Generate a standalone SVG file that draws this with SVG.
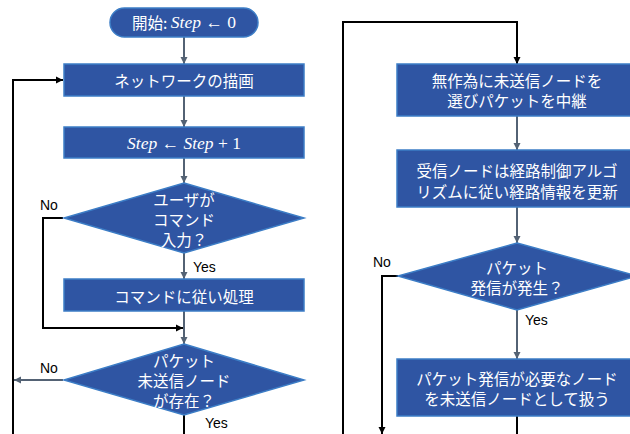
<svg xmlns="http://www.w3.org/2000/svg" width="630" height="434" viewBox="0 0 630 434">
<style>
.n{fill:#2F55A3;stroke:#3C7DC6;stroke-width:1.5}
.t{fill:#fff;font-family:"Noto Sans CJK JP","Noto Sans",sans-serif;font-size:15.5px;text-anchor:middle;dominant-baseline:central}
.m{font-family:"Liberation Serif",serif;font-style:italic;font-size:17.5px}
.mr{font-family:"Liberation Serif",serif;font-size:17.5px}
.l{fill:#000;font-family:"Liberation Sans",Arial,sans-serif;font-size:14px;dominant-baseline:central}
.g{fill:none;stroke:#536274;stroke-width:2}
.b{fill:none;stroke:#000;stroke-width:2}
</style>
<defs>
<marker id="ag" viewBox="0 0 10 10" refX="10" refY="5" markerWidth="3.5" markerHeight="4" orient="auto" markerUnits="strokeWidth"><path d="M0,0L10,5L0,10z" fill="#536274"/></marker>
<marker id="ab" viewBox="0 0 10 10" refX="10" refY="5" markerWidth="3.5" markerHeight="4" orient="auto" markerUnits="strokeWidth"><path d="M0,0L10,5L0,10z" fill="#000"/></marker>
</defs>
<rect width="630" height="434" fill="#fff"/>
<g id="connectors">
<path class="g" d="M184,37V64" marker-end="url(#ag)"/>
<path class="g" d="M184,96V127" marker-end="url(#ag)"/>
<path class="g" d="M184,158V183" marker-end="url(#ag)"/>
<path class="g" d="M184,253V279" marker-end="url(#ag)"/>
<path class="g" d="M184,311V344" marker-end="url(#ag)"/>
<path class="b" d="M63,218H43V328H183" marker-end="url(#ab)"/>
<path class="g" d="M63,380H14" marker-end="url(#ag)"/>
<path class="b" d="M184,415V434"/>
<path class="b" d="M13,434V80H63" marker-end="url(#ab)"/>
<path class="b" d="M343,434V22H517V64" marker-end="url(#ab)"/>
<path class="g" d="M517,116V150" marker-end="url(#ag)"/>
<path class="g" d="M517,207V243" marker-end="url(#ag)"/>
<path class="g" d="M517,310V359" marker-end="url(#ag)"/>
<path class="b" d="M398,276H382V434" marker-end="url(#ab)"/>
<path class="b" d="M517,416V434"/>
</g>
<g id="start">
<rect class="n" x="110" y="8" width="148" height="29" rx="14.5"/>
<text class="t" x="184" y="22">開始: <tspan class="m">Step</tspan><tspan class="mr"> ← 0</tspan></text>
</g>
<g id="draw">
<rect class="n" x="64" y="64" width="240" height="32"/>
<text class="t" x="184" y="80">ネットワークの描画</text>
</g>
<g id="inc">
<rect class="n" x="64" y="127" width="240" height="31"/>
<text class="t" x="184" y="143"><tspan class="m">Step</tspan><tspan class="mr"> ← </tspan><tspan class="m">Step</tspan><tspan class="mr"> + 1</tspan></text>
</g>
<g id="d1">
<polygon class="n" points="184,183 304,218 184,253 64,218"/>
<text class="t" x="184" y="199">ユーザが</text>
<text class="t" x="184" y="219">コマンド</text>
<text class="t" x="184" y="239">入力？</text>
</g>
<g id="cmd">
<rect class="n" x="64" y="279" width="240" height="32"/>
<text class="t" x="184" y="296">コマンドに従い処理</text>
</g>
<g id="d2">
<polygon class="n" points="184,344 304,380 184,415 64,380"/>
<text class="t" x="184" y="360">パケット</text>
<text class="t" x="184" y="380">未送信ノード</text>
<text class="t" x="184" y="400">が存在？</text>
</g>
<g id="relay">
<rect class="n" x="397" y="64" width="240" height="52"/>
<text class="t" x="517" y="80">無作為に未送信ノードを</text>
<text class="t" x="517" y="100">選びパケットを中継</text>
</g>
<g id="update">
<rect class="n" x="397" y="150" width="240" height="57"/>
<text class="t" x="517" y="170">受信ノードは経路制御アルゴ</text>
<text class="t" x="517" y="191">リズムに従い経路情報を更新</text>
</g>
<g id="d3">
<polygon class="n" points="517,243 637,276 517,310 398,276"/>
<text class="t" x="517" y="267">パケット</text>
<text class="t" x="517" y="287">発信が発生？</text>
</g>
<g id="mark">
<rect class="n" x="397" y="359" width="240" height="57"/>
<text class="t" x="517" y="378">パケット発信が必要なノード</text>
<text class="t" x="517" y="398">を未送信ノードとして扱う</text>
</g>
<g id="labels">
<text class="l" x="40" y="205">No</text>
<text class="l" x="193" y="267">Yes</text>
<text class="l" x="40" y="368">No</text>
<text class="l" x="205" y="423">Yes</text>
<text class="l" x="373" y="262">No</text>
<text class="l" x="525" y="320">Yes</text>
</g>
</svg>
